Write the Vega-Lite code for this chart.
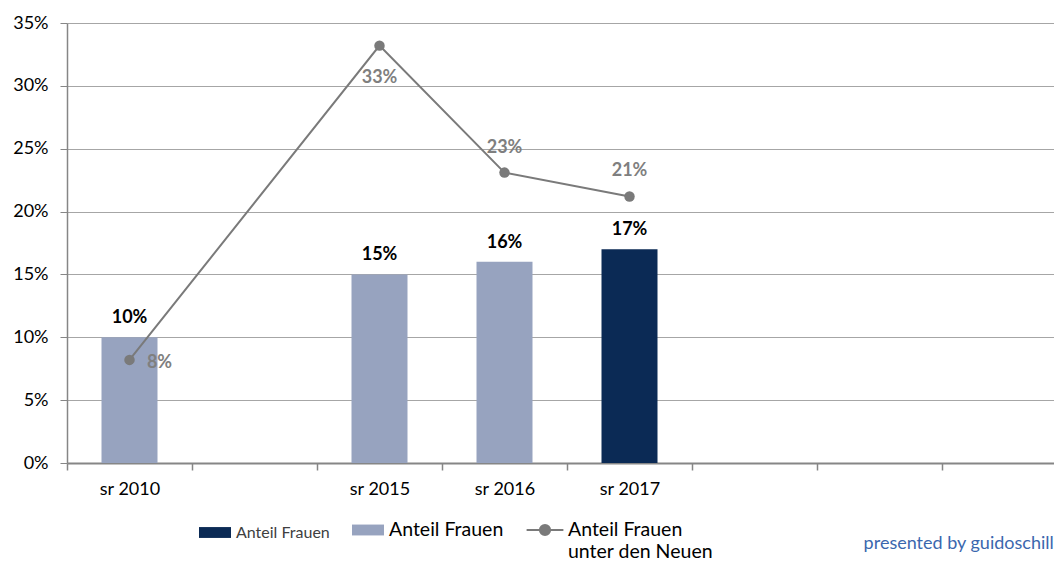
{
  "$schema": "https://vega.github.io/schema/vega-lite/v6.json",
  "width": 1000,
  "height": 440,
  "autosize": "none",
  "padding": {"left": 67, "top": 23, "right": 0, "bottom": 104},
  "background": "white",
  "config": {
    "view": {"stroke": null},
    "font": "Lato",
    "axis": {"labelFont": "Lato", "labelColor": "#000000", "labelFontSize": 18, "titleFont": "Lato"}
  },
  "title": {
    "text": "presented by guidoschill",
    "orient": "bottom",
    "anchor": "end",
    "color": "#3b67ae",
    "fontSize": 18,
    "fontWeight": "normal",
    "font": "Lato",
    "offset": -26,
    "dx": -14
  },
  "datasets": {
    "balken": [
      {"kat": "sr 2010", "anteil": 0.10, "reihe": "hell"},
      {"kat": "sr 2015", "anteil": 0.15, "reihe": "hell"},
      {"kat": "sr 2016", "anteil": 0.16, "reihe": "hell"},
      {"kat": "sr 2017", "anteil": 0.17, "reihe": "dunkel"}
    ],
    "neue": [
      {"kat": "sr 2010", "neu": 0.082},
      {"kat": "sr 2015", "neu": 0.332},
      {"kat": "sr 2016", "neu": 0.231},
      {"kat": "sr 2017", "neu": 0.212}
    ]
  },
  "encoding": {
    "x": {
      "field": "kat",
      "type": "nominal",
      "scale": {
        "domain": ["sr 2010", "leer1", "sr 2015", "sr 2016", "sr 2017", "leer2", "leer3", "leer4"],
        "paddingInner": 0,
        "paddingOuter": 0
      },
      "axis": {
        "title": null,
        "labelAngle": 0,
        "labelExpr": "slice(datum.label,0,2)==='sr' ? datum.label : ''",
        "tickBand": "extent",
        "tickSize": 7,
        "tickColor": "#868686",
        "tickWidth": 1.5,
        "domainColor": "#868686",
        "domainWidth": 2,
        "labelPadding": 10,
        "grid": false
      }
    },
    "y": {
      "type": "quantitative",
      "scale": {"domain": [0, 0.35], "nice": false},
      "axis": {
        "title": null,
        "values": [0, 0.05, 0.1, 0.15, 0.2, 0.25, 0.3, 0.35],
        "format": ".0%",
        "tickSize": 7,
        "tickColor": "#868686",
        "domainColor": "#868686",
        "domainWidth": 1.5,
        "gridColor": "#a6a6a6",
        "gridWidth": 1.2,
        "labelPadding": 12
      }
    }
  },
  "layer": [
    {
      "data": {"name": "balken"},
      "mark": {"type": "bar", "size": 56},
      "encoding": {
        "y": {"field": "anteil", "type": "quantitative"},
        "color": {
          "field": "reihe",
          "type": "nominal",
          "scale": {"domain": ["dunkel", "hell", "neu"], "range": ["#0b2a55", "#97a3bf", "#7a7a7a"]},
          "legend": {
            "orient": "none",
            "legendX": 131,
            "legendY": 490,
            "direction": "horizontal",
            "title": null,
            "symbolSize": 1024,
            "labelExpr": "datum.value === 'neu' ? ['Anteil Frauen', 'unter den Neuen'] : ['Anteil Frauen', ' ']",
            "labelFont": "Lato",
            "labelFontSize": 19.5,
            "labelColor": "#000000",
            "labelOffset": 4,
            "labelLimit": 300,
            "columnPadding": 18,
            "encode": {
              "symbols": {
                "update": {
                  "shape": {"signal": "datum.value === 'neu' ? 'M-1.15,0H1.15M-0.32,0A0.32,0.32 0 1,1 0.32,0A0.32,0.32 0 1,1 -0.32,0Z' : 'M-1,-0.34H1V0.34H-1Z'"},
                  "stroke": {"signal": "datum.value === 'neu' ? '#7a7a7a' : 'transparent'"},
                  "strokeWidth": {"value": 2},
                  "fill": {"signal": "datum.value === 'neu' ? '#7a7a7a' : (datum.value === 'dunkel' ? '#0b2a55' : '#97a3bf')"},
                  "opacity": {"value": 1},
                  "fillOpacity": {"value": 1}
                }
              },
              "labels": {
                "update": {
                  "fontSize": {"signal": "datum.value === 'dunkel' ? 16 : 19.5"},
                  "fill": {"signal": "datum.value === 'dunkel' ? '#404040' : '#000000'"},
                  "dx": {"signal": "datum.value === 'neu' ? 2 : 0"}
                }
              }
            }
          }
        }
      }
    },
    {
      "data": {"name": "balken"},
      "mark": {"type": "text", "baseline": "bottom", "dy": -10, "fontSize": 18, "fontWeight": "bold", "color": "#000000", "font": "Lato"},
      "encoding": {
        "y": {"field": "anteil", "type": "quantitative"},
        "text": {"field": "anteil", "type": "quantitative", "format": ".0%"}
      }
    },
    {
      "data": {"name": "neue"},
      "mark": {"type": "line", "color": "#7a7a7a", "strokeWidth": 2, "point": {"filled": true, "size": 110, "color": "#7a7a7a", "opacity": 1}},
      "encoding": {
        "y": {"field": "neu", "type": "quantitative"}
      }
    },
    {
      "data": {"name": "neue"},
      "transform": [{"filter": "datum.kat === 'sr 2010'"}],
      "mark": {"type": "text", "dx": 30, "dy": 3, "fontSize": 18, "fontWeight": "bold", "color": "#7f7f7f", "font": "Lato"},
      "encoding": {"y": {"field": "neu", "type": "quantitative"}, "text": {"field": "neu", "type": "quantitative", "format": ".0%"}}
    },
    {
      "data": {"name": "neue"},
      "transform": [{"filter": "datum.kat === 'sr 2015'"}],
      "mark": {"type": "text", "dy": 32, "fontSize": 18, "fontWeight": "bold", "color": "#7f7f7f", "font": "Lato"},
      "encoding": {"y": {"field": "neu", "type": "quantitative"}, "text": {"field": "neu", "type": "quantitative", "format": ".0%"}}
    },
    {
      "data": {"name": "neue"},
      "transform": [{"filter": "datum.kat === 'sr 2016' || datum.kat === 'sr 2017'"}],
      "mark": {"type": "text", "dy": -25, "fontSize": 18, "fontWeight": "bold", "color": "#7f7f7f", "font": "Lato"},
      "encoding": {"y": {"field": "neu", "type": "quantitative"}, "text": {"field": "neu", "type": "quantitative", "format": ".0%"}}
    }
  ]
}
